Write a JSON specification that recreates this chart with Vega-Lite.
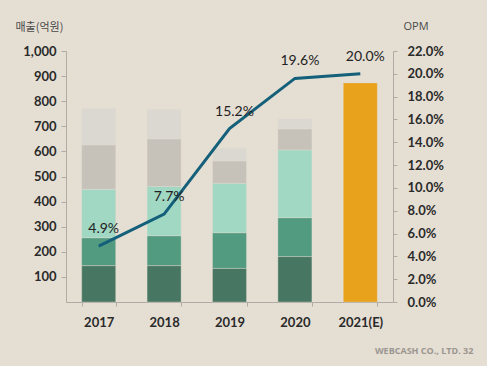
{
  "$schema": "https://vega.github.io/schema/vega-lite/v6.json",
  "autosize": {"type": "none"},
  "width": 327,
  "height": 251,
  "padding": {"left": 66, "top": 51, "right": 94, "bottom": 64},
  "background": "#e5ded3",
  "title": {
    "text": "WEBCASH CO., LTD. 32",
    "orient": "bottom",
    "anchor": "end",
    "dx": 30,
    "offset": 18,
    "fontSize": 9,
    "fontWeight": "bold",
    "font": "Open Sans",
    "color": "#9a9690"
  },
  "config": {
    "view": {"stroke": null},
    "axis": {"labelFont": "Lato", "titleFont": "Noto Sans CJK KR", "grid": false, "domainColor": "#b0aca5", "tickColor": "#b0aca5", "labelColor": "#2a2a2a"}
  },
  "datasets": {
    "bars": [
      {"year": "2017", "seg": "s1", "ord": 1, "value": 145},
      {"year": "2017", "seg": "s2", "ord": 2, "value": 111},
      {"year": "2017", "seg": "s3", "ord": 3, "value": 193},
      {"year": "2017", "seg": "s4", "ord": 4, "value": 177},
      {"year": "2017", "seg": "s5", "ord": 5, "value": 146},
      {"year": "2018", "seg": "s1", "ord": 1, "value": 145},
      {"year": "2018", "seg": "s2", "ord": 2, "value": 119},
      {"year": "2018", "seg": "s3", "ord": 3, "value": 196},
      {"year": "2018", "seg": "s4", "ord": 4, "value": 190},
      {"year": "2018", "seg": "s5", "ord": 5, "value": 118},
      {"year": "2019", "seg": "s1", "ord": 1, "value": 134},
      {"year": "2019", "seg": "s2", "ord": 2, "value": 142},
      {"year": "2019", "seg": "s3", "ord": 3, "value": 197},
      {"year": "2019", "seg": "s4", "ord": 4, "value": 89},
      {"year": "2019", "seg": "s5", "ord": 5, "value": 51},
      {"year": "2020", "seg": "s1", "ord": 1, "value": 181},
      {"year": "2020", "seg": "s2", "ord": 2, "value": 155},
      {"year": "2020", "seg": "s3", "ord": 3, "value": 270},
      {"year": "2020", "seg": "s4", "ord": 4, "value": 84},
      {"year": "2020", "seg": "s5", "ord": 5, "value": 40},
      {"year": "2021(E)", "seg": "e", "ord": 1, "value": 873}
    ],
    "opm": [
      {"year": "2017", "opm": 0.049},
      {"year": "2018", "opm": 0.077},
      {"year": "2019", "opm": 0.152},
      {"year": "2020", "opm": 0.196},
      {"year": "2021(E)", "opm": 0.200}
    ]
  },
  "encoding": {
    "x": {
      "field": "year",
      "type": "nominal",
      "sort": null,
      "scale": {"paddingInner": 0.48, "paddingOuter": 0.24},
      "axis": {"title": null, "labelAngle": 0, "tickBand": "extent", "tickSize": 4, "labelPadding": 10, "labelFontSize": 13, "labelFontWeight": "bold"}
    }
  },
  "layer": [
    {
      "data": {"name": "bars"},
      "mark": {"type": "bar", "stroke": "#e5ded3", "strokeWidth": 0.6, "strokeOpacity": 0.6},
      "encoding": {
        "y": {
          "field": "value",
          "type": "quantitative",
          "stack": "zero",
          "scale": {"domain": [0, 1000], "nice": false},
          "axis": {
            "values": [100, 200, 300, 400, 500, 600, 700, 800, 900, 1000],
            "labelExpr": "format(datum.value, ',')",
            "tickSize": 5,
            "labelPadding": 5,
            "labelFontSize": 13,
            "labelFontWeight": "bold",
            "title": "매출(억원)",
            "titleAngle": 0,
            "titleAlign": "left",
            "titleBaseline": "middle",
            "titleX": -51,
            "titleY": -24,
            "titleFontSize": 11,
            "titleFontWeight": "normal",
            "titleColor": "#4a4a4a"
          }
        },
        "color": {
          "field": "seg",
          "type": "nominal",
          "legend": null,
          "scale": {
            "domain": ["s1", "s2", "s3", "s4", "s5", "e"],
            "range": ["#477763", "#529a80", "#a0d8c4", "#c6c2ba", "#dbd8d1", "#e8a21c"]
          }
        },
        "order": {"field": "ord", "type": "quantitative"}
      }
    },
    {
      "data": {"name": "opm"},
      "mark": {"type": "line", "color": "#14607a", "strokeWidth": 3},
      "encoding": {
        "y": {
          "field": "opm",
          "type": "quantitative",
          "scale": {"domain": [0, 0.22], "nice": false},
          "axis": {
            "orient": "right",
            "values": [0, 0.02, 0.04, 0.06, 0.08, 0.1, 0.12, 0.14, 0.16, 0.18, 0.2, 0.22],
            "labelExpr": "format(datum.value, '.1%')",
            "tickSize": 4,
            "labelPadding": 10,
            "labelFontSize": 13,
            "labelFontWeight": "bold",
            "title": "OPM",
            "titleAngle": 0,
            "titleAlign": "left",
            "titleBaseline": "middle",
            "titleX": 10,
            "titleY": -25,
            "titleFontSize": 11,
            "titleFontWeight": "normal",
            "titleFont": "Open Sans",
            "titleColor": "#4a4a4a"
          }
        }
      }
    },
    {
      "data": {"name": "opm"},
      "mark": {"type": "text", "dy": -17, "dx": 5, "fontSize": 14, "font": "Lato", "color": "#222222"},
      "encoding": {
        "y": {"field": "opm", "type": "quantitative", "scale": {"domain": [0, 0.22], "nice": false}, "axis": null},
        "text": {"field": "opm", "type": "quantitative", "format": ".1%"}
      }
    }
  ],
  "resolve": {"scale": {"y": "independent"}}
}
